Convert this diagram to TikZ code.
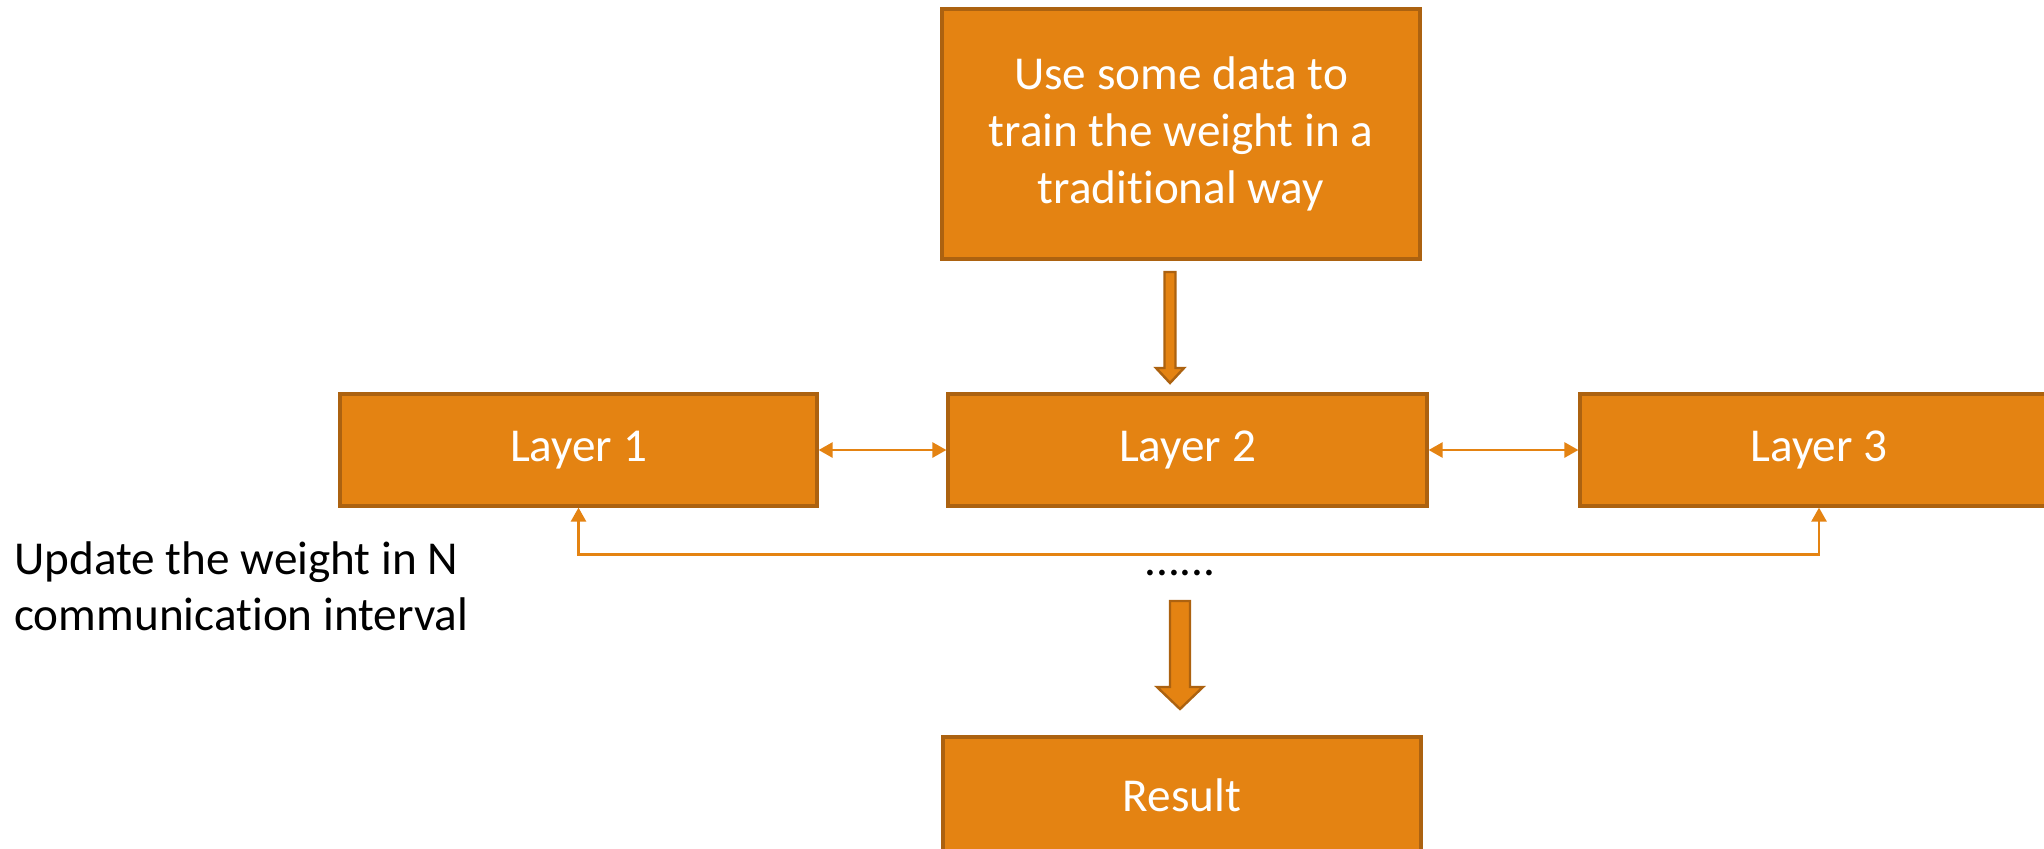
\documentclass[tikz,border=0pt]{standalone}
\usepackage{fontspec}
\setmainfont{Carlito}[Ligatures=NoCommon]
\usetikzlibrary{arrows.meta}
\definecolor{boxfill}{RGB}{228,131,18}
\definecolor{boxedge}{RGB}{172,98,16}
\tikzset{
  block/.style={draw=boxedge, fill=boxfill, line width=1.6pt, text=white,
    font=\fontsize{23.6}{28.4}\selectfont, align=center, inner sep=0pt},
  link/.style={draw=boxfill, line width=1.3pt,
    {Triangle[length=7pt,width=7.5pt]}-{Triangle[length=7pt,width=7.5pt]}},
  bigarrow/.style={draw=boxedge, fill=boxfill, line width=1.2pt, line join=miter},
  plain/.style={font=\fontsize{23.6}{27.6}\selectfont, inner sep=0pt}
}
\begin{document}
\begin{tikzpicture}[x=0.5pt, y=-0.5pt]
  \useasboundingbox (0,0) rectangle (2044,848);
  \clip (0,0) rectangle (2044,848);

  % boxes
  \node[block, minimum width=239pt, minimum height=125pt] (train) at (1181,134)
    {Use some data to\\train the weight in a\\traditional way};
  \node[block, minimum width=238.5pt, minimum height=56pt] (layer1) at (578.5,450) {Layer 1};
  \node[block, minimum width=239.5pt, minimum height=56pt] (layer2) at (1187.5,450) {Layer 2};
  \node[block, minimum width=239pt, minimum height=56pt] (layer3) at (1819,450) {Layer 3};
  \node[block, minimum width=239pt, minimum height=58pt] (result) at (1182,795) {Result};

  % side note and ellipsis
  \node[plain, anchor=base west, align=left] (note) at (14,630)
    {Update the weight in N\\communication interval};
  \node[plain, anchor=base] (dots) at (1180,575) {......};

  % links between layers
  \draw[link] (layer1) -- (layer2);
  \draw[link] (layer2) -- (layer3);
  \draw[link] (layer1.south) -- ++(0,47) -| (layer3.south);

  % block arrows
  \coordinate (a1) at (1170,272);
  \draw[bigarrow] (a1) ++(-5.5,0) -- ++(11,0) -- ++(0,96) -- ++(8.5,0)
    -- ++(-14,15) -- ++(-14,-15) -- ++(8.5,0) -- cycle;
  \coordinate (a2) at (1180,601);
  \draw[bigarrow] (a2) ++(-10,0) -- ++(20,0) -- ++(0,86) -- ++(13,0)
    -- ++(-23,22) -- ++(-23,-22) -- ++(13,0) -- cycle;
\end{tikzpicture}
\end{document}
